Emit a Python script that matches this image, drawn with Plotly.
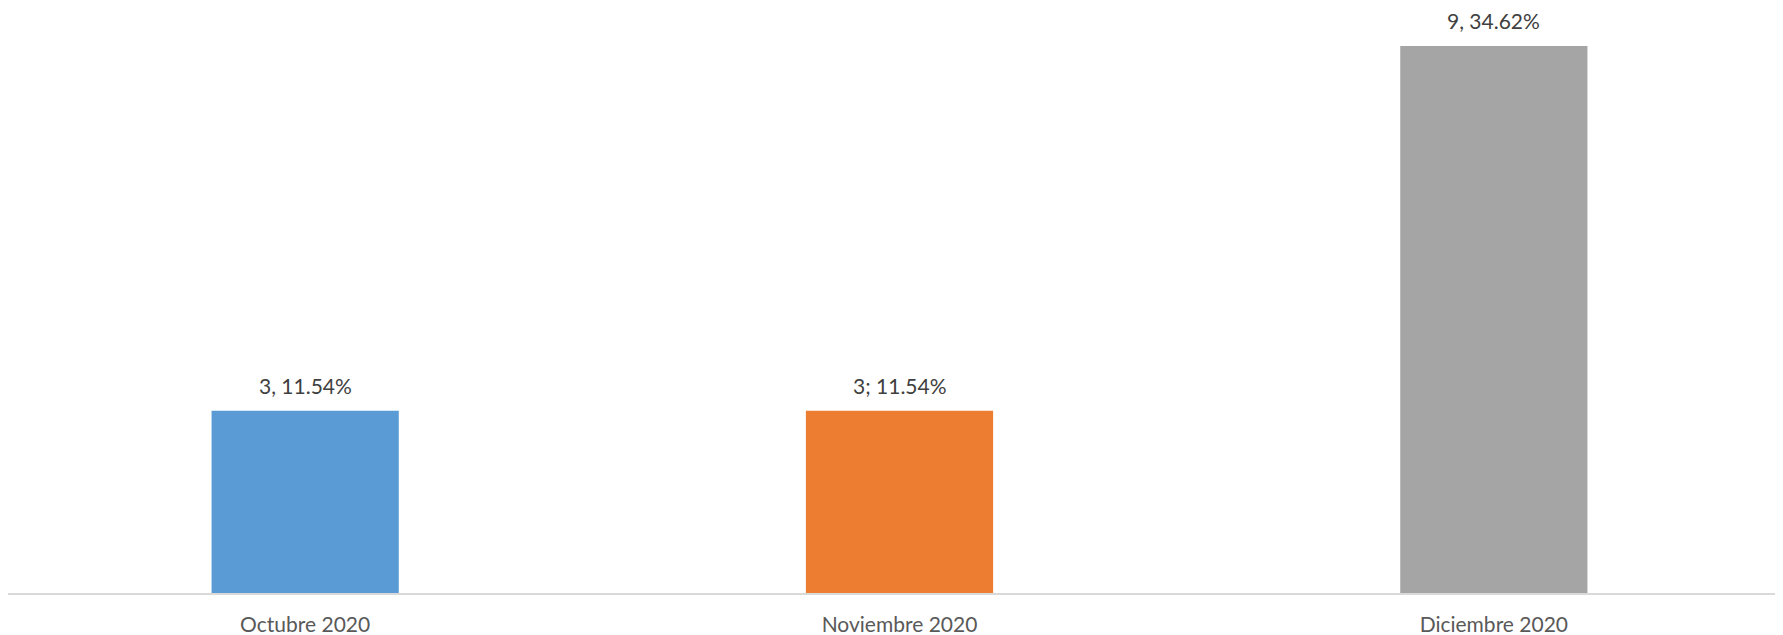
import plotly.graph_objects as go

categories = ["Octubre 2020", "Noviembre 2020", "Diciembre 2020"]
counts = [3, 3, 9]
labels = ["3, 11.54%", "3; 11.54%", "9, 34.62%"]
colors = ["#5B9BD5", "#ED7D31", "#A5A5A5"]

fig = go.Figure()
fig.add_trace(go.Bar(
    x=categories, y=counts, marker=dict(color=colors, line=dict(width=0)),
    width=0.315, hoverinfo="skip",
))
for c, v, t in zip(categories, counts, labels):
    fig.add_annotation(x=c, y=v, text=t, showarrow=False, yanchor="bottom",
                       yshift=11, font=dict(family="Lato", size=21, color="#404040"))

fig.update_layout(
    width=1783, height=627,
    margin=dict(l=0, r=0, t=0, b=42),
    paper_bgcolor="white", plot_bgcolor="white",
    showlegend=False,
    font=dict(family="Lato", size=21, color="#404040"),
    xaxis=dict(range=[-0.5, 2.5], showline=True, linecolor="#D9D9D9", linewidth=2,
               ticks="", showgrid=False, ticklabelstandoff=12,
               tickfont=dict(family="Lato", size=21, color="#595959")),
    yaxis=dict(range=[0, 9.625], visible=False, showgrid=False, zeroline=False),
)
fig.write_html("out.html")
